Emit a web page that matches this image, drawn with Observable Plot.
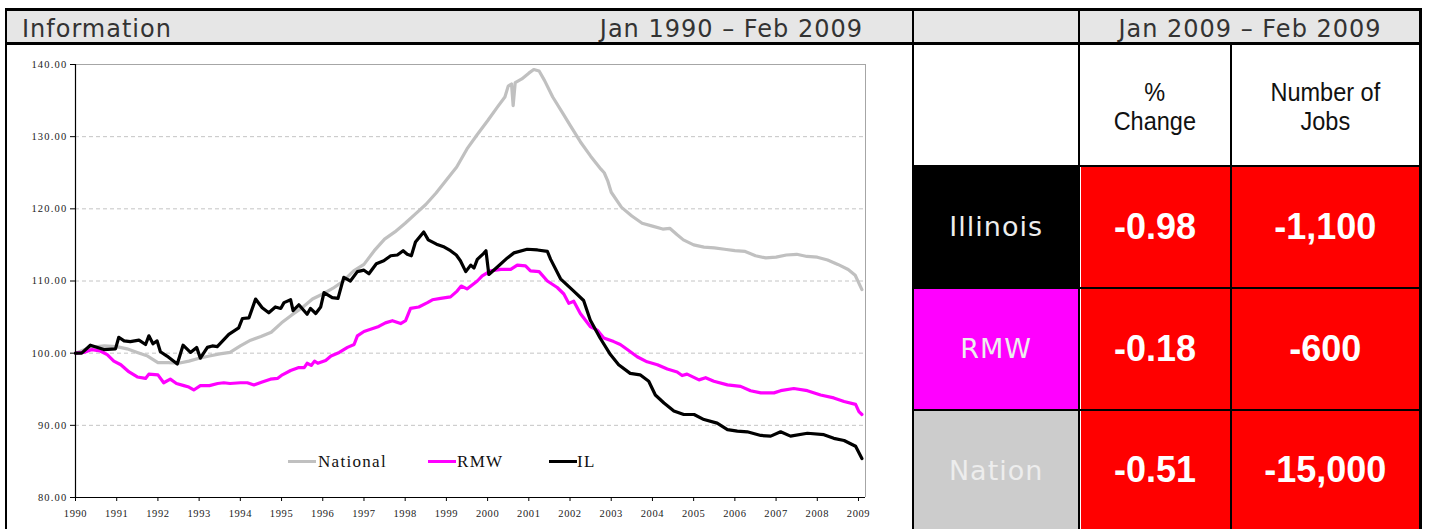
<!DOCTYPE html>
<html><head><meta charset="utf-8">
<script src="https://cdn.jsdelivr.net/npm/d3@7"></script>
<script src="https://cdn.jsdelivr.net/npm/@observablehq/plot@0.6"></script>
<style>
html,body{margin:0;padding:0;background:#fff;}
body{width:1429px;height:529px;overflow:hidden;position:relative;font-family:"DejaVu Sans",sans-serif;}
.ln{position:absolute;background:#000;}
.box{position:absolute;}
.hdr{position:absolute;font-family:"DejaVu Sans";font-size:24px;letter-spacing:1px;color:#333;line-height:32px;top:12.5px;height:32px;white-space:nowrap;}
.colh{position:absolute;font-family:"Liberation Sans",Arial,sans-serif;font-size:25px;line-height:29px;color:#111;text-align:center;display:flex;align-items:center;justify-content:center;}
.colh span{display:inline-block;transform:scaleX(0.94);}
.rowl{position:absolute;font-family:"DejaVu Sans";font-size:27px;letter-spacing:1px;color:#ededed;display:flex;align-items:center;justify-content:center;}
.val{position:absolute;font-family:"Liberation Sans",Arial,sans-serif;font-weight:bold;font-size:36px;color:#fff;display:flex;align-items:center;justify-content:center;background:#ff0000;}
.leg{position:absolute;font-family:"Liberation Serif","Times New Roman",serif;font-size:17px;letter-spacing:1.3px;color:#111;line-height:16px;white-space:nowrap;}
#chart{position:absolute;left:7px;top:44px;}
#chart g[aria-label="y-axis tick label"] text{letter-spacing:1.2px;}
#chart g[aria-label="x-axis tick label"] text{letter-spacing:0.6px;}
</style></head><body>
<div id="chart"></div>
<div id="ui"></div>
<script>
// ---------- data ----------
const panelTitle = "Information";
const chartRange = "Jan 1990 – Feb 2009";
const tableRange = "Jan 2009 – Feb 2009";
const seriesNames = ["National", "RMW", "IL"];
const seriesColors = ["#c0c0c0", "#ff00ff", "#000000"];
const yearTicks = [1990,1991,1992,1993,1994,1995,1996,1997,1998,1999,2000,2001,2002,2003,2004,2005,2006,2007,2008,2009];
const yTicks = [80,90,100,110,120,130,140];
const gridTicks = [90,100,110,120,130];

const natT = [1990.0,1990.35,1990.7,1991.0,1991.25,1991.5,1991.75,1992.0,1992.25,1992.5,1992.75,1993.0,1993.25,1993.5,1993.75,1994.0,1994.25,1994.5,1994.75,1995.0,1995.25,1995.5,1995.75,1996.0,1996.25,1996.5,1996.75,1997.0,1997.25,1997.5,1997.75,1998.0,1998.25,1998.5,1998.75,1999.0,1999.25,1999.5,1999.75,2000.0,2000.25,2000.42,2000.5,2000.58,2000.62,2000.67,2000.83,2001.0,2001.12,2001.25,2001.38,2001.58,2001.83,2002.0,2002.25,2002.5,2002.75,2002.83,2002.92,2003.0,2003.25,2003.5,2003.75,2004.0,2004.25,2004.42,2004.6,2004.75,2005.0,2005.25,2005.5,2005.75,2006.0,2006.25,2006.5,2006.75,2007.0,2007.25,2007.5,2007.75,2008.0,2008.25,2008.5,2008.75,2008.92,2009.0,2009.083];
const natV = [100.0,100.8,101.0,100.9,100.6,100.1,99.6,98.7,98.7,98.6,98.9,99.3,99.6,99.9,100.1,101.0,101.8,102.3,102.9,104.2,105.3,106.3,107.5,108.2,109.0,110.0,111.4,112.3,114.2,115.8,116.8,118.0,119.3,120.6,122.2,124.0,125.8,128.3,130.3,132.2,134.2,135.5,137.0,137.3,134.3,137.5,138.0,138.8,139.3,139.1,137.8,135.5,133.2,131.6,129.3,127.3,125.5,125.0,123.8,122.3,120.2,119.0,118.0,117.6,117.2,117.3,116.4,115.7,115.0,114.7,114.6,114.4,114.2,114.1,113.5,113.2,113.3,113.6,113.7,113.4,113.3,112.9,112.3,111.6,110.8,109.8,108.8];

const rmwT = [1990.0,1990.2,1990.4,1990.6,1990.77,1990.93,1991.1,1991.3,1991.5,1991.7,1991.78,1992.0,1992.14,1992.3,1992.45,1992.63,1992.75,1992.87,1993.03,1993.25,1993.45,1993.6,1993.75,1994.0,1994.17,1994.33,1994.53,1994.73,1994.9,1995.02,1995.22,1995.42,1995.55,1995.62,1995.72,1995.8,1995.88,1996.07,1996.2,1996.4,1996.6,1996.76,1996.84,1997.0,1997.16,1997.36,1997.52,1997.69,1997.89,1998.01,1998.13,1998.33,1998.54,1998.66,1998.86,1999.1,1999.26,1999.36,1999.5,1999.75,1999.87,2000.07,2000.32,2000.56,2000.72,2000.92,2001.04,2001.25,2001.45,2001.69,2001.85,2001.97,2002.09,2002.25,2002.49,2002.66,2002.82,2003.06,2003.22,2003.39,2003.63,2003.87,2004.12,2004.36,2004.6,2004.72,2004.84,2005.13,2005.29,2005.49,2005.82,2006.14,2006.38,2006.63,2006.95,2007.11,2007.43,2007.76,2008.08,2008.4,2008.65,2008.93,2009.01,2009.083];
const rmwV = [100.0,100.1,100.5,100.3,99.8,98.9,98.4,97.4,96.7,96.5,97.1,97.0,95.9,96.4,95.8,95.5,95.3,94.9,95.5,95.5,95.8,95.9,95.8,95.9,95.9,95.6,96.0,96.4,96.5,97.0,97.6,98.0,98.0,98.6,98.3,98.9,98.6,99.0,99.6,100.1,100.8,101.2,102.4,103.0,103.3,103.7,104.2,104.5,104.1,104.5,106.2,106.4,107.0,107.4,107.6,107.8,108.6,109.3,108.9,110.0,110.7,111.4,111.6,111.6,112.2,112.1,111.4,111.3,110.0,109.1,108.2,106.9,107.2,105.5,103.7,103.2,102.1,101.6,101.2,100.5,99.5,98.8,98.4,97.8,97.4,96.9,97.1,96.3,96.6,96.1,95.6,95.4,94.8,94.5,94.5,94.8,95.1,94.8,94.2,93.8,93.3,92.9,91.9,91.5];

const ilT = [1990.0,1990.15,1990.36,1990.69,1990.97,1991.05,1991.18,1991.33,1991.54,1991.7,1991.78,1991.88,1991.98,1992.06,1992.22,1992.47,1992.61,1992.79,1992.94,1993.03,1993.2,1993.32,1993.44,1993.72,1993.96,1994.05,1994.21,1994.37,1994.53,1994.69,1994.85,1994.98,1995.06,1995.22,1995.28,1995.42,1995.62,1995.7,1995.83,1995.95,1996.03,1996.23,1996.37,1996.51,1996.67,1996.84,1997.0,1997.12,1997.3,1997.48,1997.65,1997.81,1997.95,1998.05,1998.15,1998.25,1998.45,1998.56,1998.76,1998.95,1999.1,1999.24,1999.34,1999.47,1999.59,1999.67,1999.75,1999.9,1999.96,2000.03,2000.23,2000.48,2000.64,2000.96,2001.21,2001.45,2001.53,2001.77,2002.09,2002.33,2002.49,2002.73,2002.98,2003.18,2003.46,2003.7,2003.91,2004.07,2004.28,2004.52,2004.76,2005.01,2005.25,2005.57,2005.82,2006.06,2006.3,2006.63,2006.87,2007.11,2007.35,2007.76,2008.16,2008.4,2008.65,2008.93,2009.083];
const ilV = [100.0,100.0,101.1,100.5,100.6,102.2,101.7,101.6,101.8,101.2,102.4,101.3,101.7,100.2,99.6,98.5,101.1,100.1,100.8,99.3,100.8,101.0,100.9,102.6,103.5,104.8,104.9,107.5,106.3,105.6,106.4,106.2,107.0,107.4,105.9,106.7,105.4,106.2,105.5,106.4,108.4,107.7,107.6,110.5,110.0,111.3,111.5,111.0,112.4,112.8,113.5,113.6,114.2,113.7,113.5,115.4,116.8,115.7,115.1,114.7,114.2,113.6,112.8,111.3,112.2,111.8,113.0,113.8,114.2,110.9,111.9,113.2,113.9,114.4,114.3,114.1,113.0,110.3,108.6,107.3,104.6,102.1,99.8,98.4,97.2,97.0,96.1,94.2,93.1,92.0,91.5,91.5,90.8,90.3,89.4,89.2,89.1,88.6,88.5,89.1,88.5,88.9,88.7,88.2,87.9,87.1,85.4];

const regions = ["Illinois", "RMW", "Nation"];
const regionFill = ["#000000", "#ff00ff", "#cccccc"];
const pctChange = ["-0.98", "-0.18", "-0.51"];
const jobChange = ["-1,100", "-600", "-15,000"];
const colHeads = ["%<br>Change", "Number of<br>Jobs"];

// ---------- chart ----------
const rows = [];
[[natT, natV], [rmwT, rmwV], [ilT, ilV]].forEach(([T, V], k) => {
  T.forEach((t, i) => rows.push({t, v: V[i], s: seriesNames[k]}));
});
const xMin = yearTicks[0], xMax = yearTicks[yearTicks.length - 1] + 0.17;

const chart = Plot.plot({
  width: 905, height: 485,
  marginLeft: 68, marginRight: 47, marginTop: 20, marginBottom: 32,
  style: {background: "transparent", fontFamily: "'Liberation Serif','Times New Roman',serif", color: "#222", overflow: "visible"},
  x: {domain: [xMin, xMax], label: null},
  y: {domain: [yTicks[0], yTicks[yTicks.length - 1]], label: null},
  color: {domain: seriesNames, range: seriesColors},
  marks: [
    Plot.gridY(gridTicks, {stroke: "#c4c4c4", strokeOpacity: 1, strokeDasharray: "4,3"}),
    Plot.ruleY([yTicks[yTicks.length - 1]], {stroke: "#a6a6a6"}),
    Plot.ruleX([xMax], {stroke: "#a6a6a6"}),
    Plot.line(rows, {x: "t", y: "v", z: "s", stroke: "s", strokeWidth: 3.2, strokeLinejoin: "round"}),
    Plot.ruleX([xMin], {stroke: "#000", strokeWidth: 1.2}),
    Plot.ruleY([yTicks[0]], {stroke: "#000", strokeWidth: 1.2}),
    Plot.axisX(yearTicks, {tickFormat: d => String(d), tickSize: 4, tickPadding: 8, fontSize: 10.5, stroke: "#000"}),
    Plot.axisY(yTicks, {tickFormat: d3.format(".2f"), tickSize: 5, tickPadding: 3, fontSize: 10.5, stroke: "#000"})
  ]
});
document.getElementById("chart").appendChild(chart);

// ---------- layout / table ----------
const ui = document.getElementById("ui");
function el(cls, style, html) {
  const d = document.createElement("div");
  d.className = cls;
  Object.assign(d.style, style);
  if (html != null) d.innerHTML = html;
  ui.appendChild(d);
  return d;
}
const px = v => v + "px";
// header background
el("box", {left: px(5), top: px(8), width: px(1417), height: px(36), background: "#e6e6e6"});
// header texts
el("hdr", {left: px(22)}, panelTitle);
el("hdr", {left: px(500), width: px(363), textAlign: "right"}, chartRange);
el("hdr", {left: px(1080.5), width: px(339), textAlign: "center"}, tableRange);
// column headers
const colX = [[914, 1078.3], [1080.5, 1229.5], [1231.7, 1419]];
colHeads.forEach((h, i) => {
  const [a, b] = colX[i + 1];
  el("colh", {left: px(a), top: px(47), width: px(b - a), height: px(120)}, "<span>" + h + "</span>");
});
// rows
const rowY = [[167, 286.7], [288.7, 409.3], [411.3, 529]];
regions.forEach((r, i) => {
  const [y0, y1] = rowY[i];
  el("rowl", {left: px(colX[0][0]), top: px(y0), width: px(colX[0][1] - colX[0][0]), height: px(y1 - y0), background: regionFill[i]}, r);
  el("val", {left: px(colX[1][0]), top: px(y0), width: px(colX[1][1] - colX[1][0]), height: px(y1 - y0)}, pctChange[i]);
  el("val", {left: px(colX[2][0]), top: px(y0), width: px(colX[2][1] - colX[2][0]), height: px(y1 - y0)}, jobChange[i]);
});
// grid lines
const hLines = [[5, 1422, 8, 2.5], [5, 1422, 42, 2.5], [912, 1422, 164.5, 2.7], [912, 1422, 286.7, 2], [912, 1422, 409.3, 2]];
hLines.forEach(([x0, x1, y, w]) => el("ln", {left: px(x0), width: px(x1 - x0), top: px(y), height: px(w)}));
const vLines = [[5, 8, 529, 2.3], [911.8, 8, 529, 2.3], [1078.3, 8, 529, 2.2], [1229.5, 42, 529, 2.2], [1419.2, 8, 529, 2.5]];
vLines.forEach(([x, y0, y1, w]) => el("ln", {left: px(x), top: px(y0), height: px(y1 - y0), width: px(w)}));
// legend
const legX = [[288, 318], [428, 457], [549, 577]];
seriesNames.forEach((n, i) => {
  el("box", {left: px(legX[i][0]), top: px(459.5), width: px(28), height: px(3), background: seriesColors[i]});
  el("leg", {left: px(legX[i][1]), top: px(454)}, n);
});
</script>
</body></html>
